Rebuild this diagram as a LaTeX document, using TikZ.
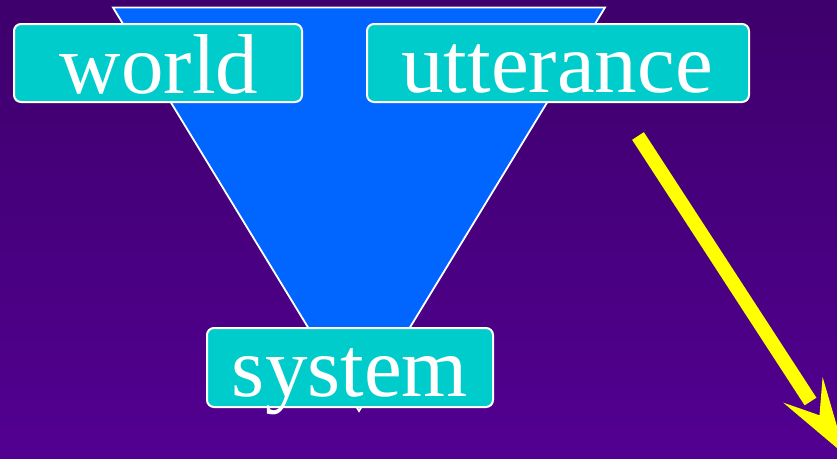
\documentclass[tikz,border=0pt]{standalone}
\usepackage{fontspec}
\setmainfont{Liberation Serif}
\definecolor{bgtop}{RGB}{62,0,108}
\definecolor{bgbot}{RGB}{82,0,145}
\definecolor{triblue}{RGB}{0,102,255}
\definecolor{boxcyan}{RGB}{0,204,204}
\definecolor{arryellow}{RGB}{255,255,0}
\tikzset{
  box/.style={draw=white, line width=2pt, fill=boxcyan, rounded corners=7pt, inner sep=0pt},
  lbl/.style={text=white, inner sep=0pt, anchor=base, font=\fontsize{85}{85}\selectfont},
  tri/.style={draw=white, line width=1.8pt, fill=triblue, line join=miter},
  arrline/.style={draw=arryellow, line width=14pt},
  arrhead/.style={fill=arryellow}
}
\begin{document}
\begin{tikzpicture}[x=1pt,y=-1pt]
\useasboundingbox (0,0) rectangle (837,458);
\shade[top color=bgtop, bottom color=bgbot] (0,0) rectangle (837,458);
% funnel
\coordinate (tl) at (113,7.5);
\coordinate (tr) at (605,7.5);
\coordinate (tb) at (359,411);
\draw[tri] (tl) -- (tr) -- (tb) -- cycle;
% boxes
\node[box, minimum width=288pt, minimum height=78pt] (worldbox) at (158,63) {};
\node[lbl] (world) at (159,93) {world};
\node[box, minimum width=382pt, minimum height=78pt] (uttbox) at (558,63) {};
\node[lbl] (utterance) at (557,92.5) {utterance};
\node[box, minimum width=286pt, minimum height=79pt] (sysbox) at (350,367.5) {};
\node[lbl] (system) at (350,396) {system};
% yellow arrow
\coordinate (arrS) at (638,136);
\coordinate (arrE) at (810.5,401.5);
\draw[arrline] (arrS) -- (arrE);
\coordinate (hTip) at (845.4,455.1);
\coordinate (hB1) at (783.2,402.6);
\coordinate (hN) at (819.5,415.3);
\coordinate (hB2) at (822.6,377.0);
\fill[arrhead] (hTip) -- (hB1) -- (hN) -- (hB2) -- cycle;
\end{tikzpicture}
\end{document}
